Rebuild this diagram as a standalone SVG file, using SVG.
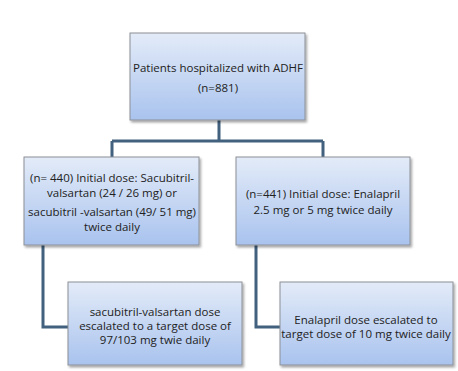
<svg xmlns="http://www.w3.org/2000/svg" width="458" height="371" viewBox="0 0 458 371">
<defs>
<linearGradient id="g" x1="0" y1="0" x2="0" y2="1">
<stop offset="0" stop-color="#e3ebf8"/>
<stop offset="1" stop-color="#a9c3ee"/>
</linearGradient>
<filter id="sh" x="-5%" y="-5%" width="115%" height="115%">
<feDropShadow dx="1.5" dy="2" stdDeviation="1.2" flood-color="#000" flood-opacity="0.35"/>
</filter>
</defs>
<style>
.box{fill:url(#g);stroke:#8c9096;stroke-width:1;filter:url(#sh)}
.t{font-family:"Open Sans","Liberation Sans",sans-serif;font-size:11.5px;fill:#222;text-anchor:middle}
.c{fill:none;stroke:#41617f;stroke-width:3}
</style>
<rect width="458" height="371" fill="#fff"/>
<g id="connectors">
<path class="c" d="M219 120 V141 M112 141 H323 M112 141 V157 M323 141 V157"/>
<path class="c" d="M43 245 V327 H68"/>
<path class="c" d="M256 245 V327 H280"/>
</g>
<g id="n1">
<rect class="box" x="130" y="33" width="175" height="87"/>
<text class="t" x="218" y="72">Patients hospitalized with ADHF</text>
<text class="t" x="218" y="92">(n=881)</text>
</g>
<g id="n2">
<rect class="box" x="24" y="157" width="175" height="88"/>
<text class="t" x="112" y="182">(n= 440) Initial dose: Sacubitril-</text>
<text class="t" x="112" y="197">valsartan (24 / 26 mg) or</text>
<text class="t" x="112" y="216">sacubitril -valsartan (49/ 51 mg)</text>
<text class="t" x="112" y="231">twice daily</text>
</g>
<g id="n3">
<rect class="box" x="236" y="157" width="174" height="88"/>
<text class="t" x="323" y="198">(n=441) Initial dose: Enalapril</text>
<text class="t" x="323" y="214">2.5 mg or 5 mg twice daily</text>
</g>
<g id="n4">
<rect class="box" x="68" y="282" width="174" height="83"/>
<text class="t" x="155" y="316">sacubitril-valsartan dose</text>
<text class="t" x="155" y="330">escalated to a target dose of</text>
<text class="t" x="155" y="344">97/103 mg twie daily</text>
</g>
<g id="n5">
<rect class="box" x="280" y="282" width="173" height="83"/>
<text class="t" x="366" y="324">Enalapril dose escalated to</text>
<text class="t" x="366" y="338">target dose of 10 mg twice daily</text>
</g>
</svg>
